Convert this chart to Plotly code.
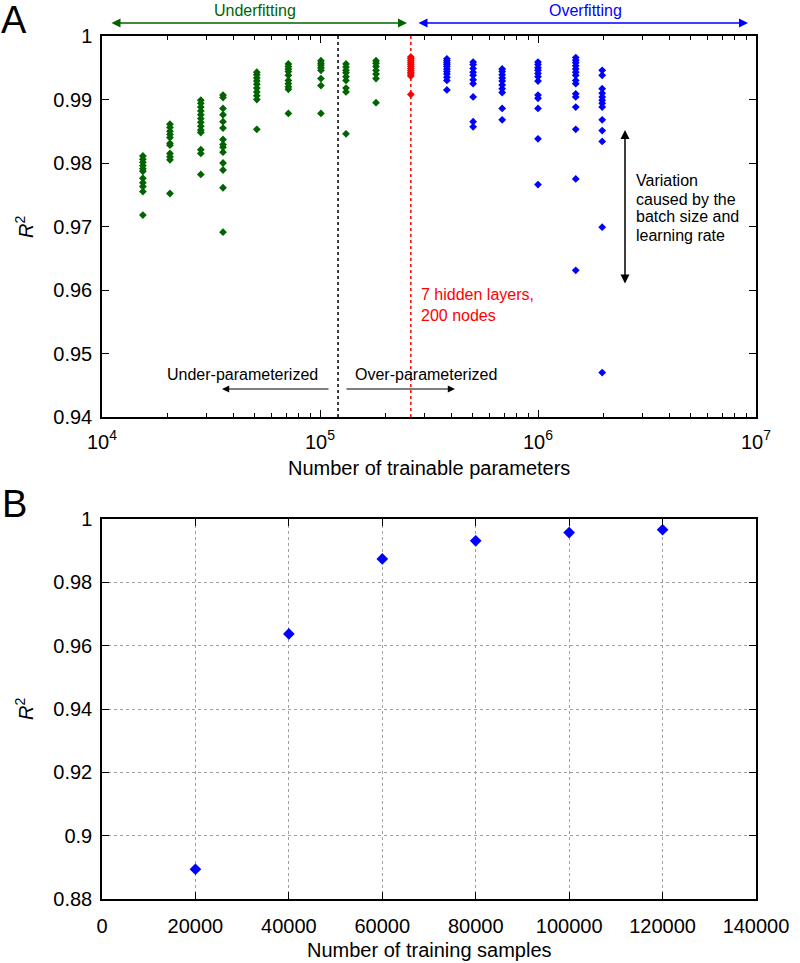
import plotly.graph_objects as go

# ---------------- Panel A data ----------------
green_params = [15400, 20500, 28400, 35900, 51300, 71600, 101000, 131600, 180700]
green_r2 = [
    [0.9811, 0.9806, 0.9801, 0.9796, 0.9791, 0.9787, 0.9776, 0.9769, 0.9763, 0.9755, 0.9718],
    [0.9861, 0.9856, 0.9850, 0.9845, 0.9840, 0.9831, 0.9828, 0.9815, 0.9810, 0.9805, 0.9752],
    [0.9899, 0.9894, 0.9888, 0.9882, 0.9876, 0.9870, 0.9864, 0.9858, 0.9852, 0.9848, 0.9821, 0.9815, 0.9782],
    [0.9907, 0.9903, 0.9886, 0.9876, 0.9865, 0.9855, 0.9837, 0.9829, 0.9825, 0.9817, 0.9800, 0.9789, 0.9761, 0.9691],
    [0.9943, 0.9939, 0.9934, 0.9929, 0.9924, 0.9918, 0.9912, 0.9906, 0.9900, 0.9853],
    [0.9956, 0.9952, 0.9948, 0.9944, 0.9938, 0.9930, 0.9925, 0.9920, 0.9916, 0.9878],
    [0.9961, 0.9957, 0.9954, 0.9950, 0.9946, 0.9933, 0.9922, 0.9878],
    [0.9956, 0.9951, 0.9946, 0.9942, 0.9936, 0.9930, 0.9918, 0.9912, 0.9846],
    [0.9961, 0.9957, 0.9952, 0.9946, 0.9940, 0.9933, 0.9895],
]

red_params = [261000]
red_r2 = [
    [0.9967, 0.9964, 0.9961, 0.9958, 0.9955, 0.9952, 0.9949, 0.9946, 0.9943, 0.9940, 0.9937, 0.9908],
]

blue_params = [382000, 504000, 685000, 1000000, 1490000, 1970000]
blue_r2 = [
    [0.9964, 0.9961, 0.9958, 0.9955, 0.9952, 0.9948, 0.9944, 0.9940, 0.9935, 0.9930, 0.9915],
    [0.9959, 0.9955, 0.9949, 0.9943, 0.9938, 0.9931, 0.9925, 0.9904, 0.9865, 0.9857],
    [0.9948, 0.9944, 0.9939, 0.9934, 0.9929, 0.9923, 0.9917, 0.9911, 0.9886, 0.9868],
    [0.9959, 0.9955, 0.9950, 0.9946, 0.9941, 0.9936, 0.9929, 0.9907, 0.9902, 0.9886, 0.9838, 0.9766],
    [0.9966, 0.9962, 0.9958, 0.9953, 0.9948, 0.9943, 0.9938, 0.9930, 0.9925, 0.9909, 0.9904, 0.9888,
     0.9853, 0.9775, 0.9631],
    [0.9946, 0.9938, 0.9917, 0.9910, 0.9904, 0.9899, 0.9894, 0.9888, 0.9868, 0.9851, 0.9834, 0.9699, 0.9470],
]

split_params = 121000      # under/over-parameterized boundary
best_params = 261000       # 7 hidden layers, 200 nodes

a_x_ticks = [1e4, 1e5, 1e6, 1e7]
a_x_ticktext = ["10<sup>4</sup>", "10<sup>5</sup>", "10<sup>6</sup>", "10<sup>7</sup>"]
a_y_ticks = [0.94, 0.95, 0.96, 0.97, 0.98, 0.99, 1.0]
a_y_ticktext = ["0.94", "0.95", "0.96", "0.97", "0.98", "0.99", "1"]

# ---------------- Panel B data ----------------
train_samples = [20000, 40000, 60000, 80000, 100000, 120000]
train_r2 = [0.8894, 0.9637, 0.9874, 0.9931, 0.9957, 0.9966]

b_x_ticks = [0, 20000, 40000, 60000, 80000, 100000, 120000, 140000]
b_x_ticktext = ["0", "20000", "40000", "60000", "80000", "100000", "120000", "140000"]
b_y_ticks = [0.88, 0.90, 0.92, 0.94, 0.96, 0.98, 1.0]
b_y_ticktext = ["0.88", "0.9", "0.92", "0.94", "0.96", "0.98", "1"]


def flatten(params, groups):
    xs, ys = [], []
    for p, g in zip(params, groups):
        for v in g:
            xs.append(p)
            ys.append(v)
    return xs, ys


FONT = "Liberation Sans, Arial, Helvetica, sans-serif"
GREEN = "#006400"
BLUE = "#0000ff"
RED = "#ff0000"

# layout geometry (pixels)
W, H = 800, 963
ML, MR, MT, MB = 102, 44, 36, 64
PW = W - ML - MR
PH = H - MT - MB


def px(xp):
    return (xp - ML) / PW


def py(yp):
    return (H - MB - yp) / PH


fig = go.Figure()

gx, gy = flatten(green_params, green_r2)
rx, ry = flatten(red_params, red_r2)
bx, by = flatten(blue_params, blue_r2)

fig.add_trace(go.Scatter(x=[split_params, split_params], y=[a_y_ticks[0], a_y_ticks[-1]], mode="lines",
                         line=dict(color="black", dash="dot", width=1.5), xaxis="x", yaxis="y",
                         showlegend=False, hoverinfo="skip"))
fig.add_trace(go.Scatter(x=[best_params, best_params], y=[a_y_ticks[0], a_y_ticks[-1]], mode="lines",
                         line=dict(color=RED, dash="dot", width=1.5), xaxis="x", yaxis="y",
                         showlegend=False, hoverinfo="skip"))
fig.add_trace(go.Scatter(x=gx, y=gy, mode="markers", name="Underfitting",
                         marker=dict(symbol="diamond", size=6, color=GREEN), xaxis="x", yaxis="y",
                         showlegend=False))
fig.add_trace(go.Scatter(x=rx, y=ry, mode="markers", name="7 hidden layers, 200 nodes",
                         marker=dict(symbol="diamond", size=6, color=RED), xaxis="x", yaxis="y",
                         showlegend=False))
fig.add_trace(go.Scatter(x=bx, y=by, mode="markers", name="Overfitting",
                         marker=dict(symbol="diamond", size=6, color=BLUE), xaxis="x", yaxis="y",
                         showlegend=False))
fig.add_trace(go.Scatter(x=train_samples, y=train_r2, mode="markers", name="Training samples",
                         marker=dict(symbol="diamond", size=9, color=BLUE), xaxis="x2", yaxis="y2",
                         showlegend=False))

top_dom = [py(417), 1.0]
bot_dom = [0.0, py(519)]

axis_common = dict(showline=True, linecolor="black", linewidth=1.5, mirror="allticks",
                   ticks="inside", ticklen=7, tickwidth=1, tickcolor="black", zeroline=False,
                   tickfont=dict(size=20, color="black", family=FONT))

fig.update_layout(
    width=W, height=H, autosize=False,
    margin=dict(l=ML, r=MR, t=MT, b=MB),
    paper_bgcolor="white", plot_bgcolor="white",
    font=dict(family=FONT, color="black"),
    showlegend=False,
    xaxis=dict(type="log", range=[4, 7], domain=[0, 1], anchor="y",
               tickmode="array", tickvals=a_x_ticks, ticktext=a_x_ticktext,
               showgrid=False, ticklabelstandoff=6,
               minor=dict(ticks="inside", ticklen=4, dtick="D1", tickcolor="black", showgrid=False),
               **axis_common),
    yaxis=dict(range=[0.94, 1.0], domain=top_dom, anchor="x",
               tickmode="array", tickvals=a_y_ticks, ticktext=a_y_ticktext,
               showgrid=False, ticklabelstandoff=4, **axis_common),
    xaxis2=dict(range=[0, 140000], domain=[0, 1], anchor="y2",
                tickmode="array", tickvals=b_x_ticks, ticktext=b_x_ticktext,
                showgrid=True, gridcolor="#a0a0a0", griddash="dot", gridwidth=1,
                ticklabelstandoff=8, **axis_common),
    yaxis2=dict(range=[0.88, 1.0], domain=bot_dom, anchor="x2",
                tickmode="array", tickvals=b_y_ticks, ticktext=b_y_ticktext,
                showgrid=True, gridcolor="#a0a0a0", griddash="dot", gridwidth=1,
                ticklabelstandoff=4, **axis_common),
)

ann = []


def text(x, y, s, size=16, color="black", xanchor="center", yanchor="middle", angle=0, align="center"):
    ann.append(dict(x=x, y=y, xref="paper", yref="paper", text=s, showarrow=False,
                    font=dict(size=size, color=color, family=FONT), xanchor=xanchor, yanchor=yanchor,
                    textangle=angle, align=align))


def arrow(x_head, y_head, dx, dy, color="black", width=1.5, both=False, size=1.2):
    ann.append(dict(x=x_head, y=y_head, xref="paper", yref="paper", ax=dx, ay=dy,
                    axref="pixel", ayref="pixel", text="", showarrow=True, arrowhead=2,
                    arrowside="end+start" if both else "end", arrowsize=size,
                    arrowwidth=width, arrowcolor=color, standoff=0, startstandoff=0))


# panel letters
text(px(14), py(20), "A", size=38, xanchor="center")
text(px(14), py(504), "B", size=38, xanchor="center")

# underfitting / overfitting headers
text(px(255), py(10), "Underfitting", size=16, color=GREEN)
arrow(px(407), py(23), -(407 - 110), 0, color=GREEN, width=1.5, both=True)
text(px(585), py(10), "Overfitting", size=16, color=BLUE)
arrow(px(748), py(23), -(748 - 417), 0, color=BLUE, width=1.5, both=True)

# red note
text(px(419), py(305), "7 hidden layers,<br>200 nodes", size=16, color=RED, xanchor="left", align="left")

# under / over parameterized
text(px(242), py(374), "Under-parameterized", size=16)
arrow(px(222), py(389), 330 - 222, 0, width=1.2)
text(px(426), py(374), "Over-parameterized", size=16)
arrow(px(455), py(389), 345 - 455, 0, width=1.2)

# variation arrow + note
arrow(px(625), py(130), 0, 285 - 130, width=1.5, both=True)
for yy, s in zip([180, 199, 217, 236], ["Variation", "caused by the", "batch size and", "learning rate"]):
    text(px(634), py(yy), s, size=16, xanchor="left")

# axis titles
text(px(429), py(468), "Number of trainable parameters", size=20)
text(px(429), py(950), "Number of training samples", size=20)
text(px(24), py(227), "<i>R</i><sup>2</sup>", size=20, angle=-90)
text(px(24), py(709), "<i>R</i><sup>2</sup>", size=20, angle=-90)

fig.update_layout(annotations=ann)

fig.write_html("out.html",
               config={"displayModeBar": False},
               post_script="document.body.style.margin='0px';document.body.style.padding='0px';"
                           "document.documentElement.style.overflow='hidden';")
